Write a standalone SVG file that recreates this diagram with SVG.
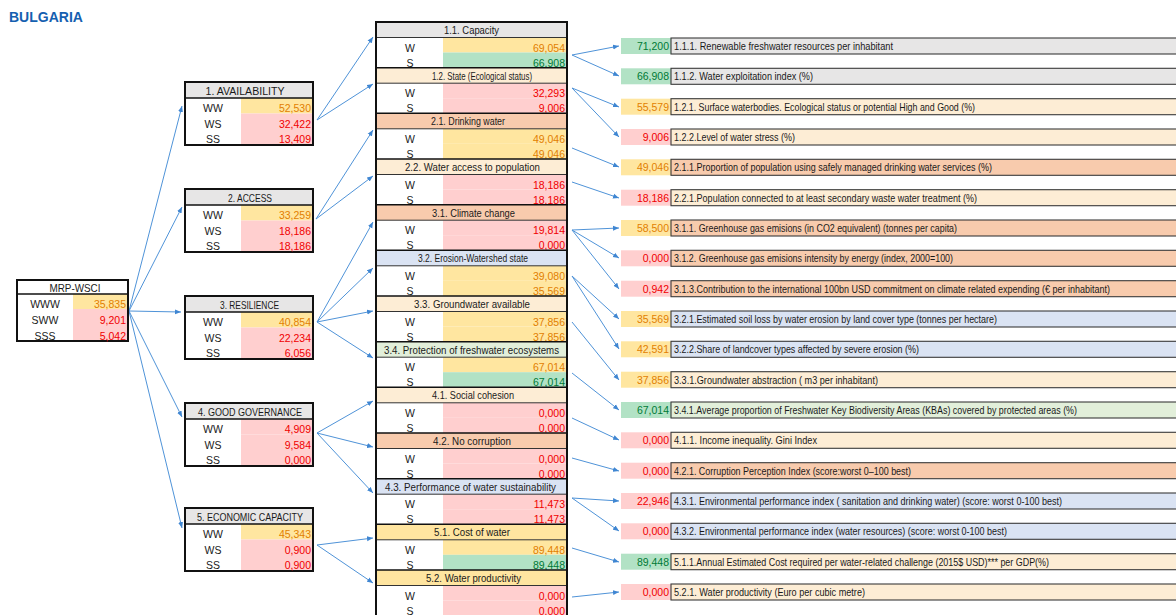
<svg xmlns="http://www.w3.org/2000/svg" width="1176" height="615" viewBox="0 0 1176 615">
<style>
text{font-family:"Liberation Sans",Arial,sans-serif;font-size:10.5px;fill:#1a1a1a}
.title{font-size:14px;font-weight:bold;fill:#1560B0}
.c{text-anchor:middle}
.v{text-anchor:end}
.rl{font-size:10.3px}
.o{fill:#E27F00}.r{fill:#F00000}.g{fill:#007A35}
.yb{fill:#FFE6A0}.pb{fill:#FFCFCF}.gb{fill:#B2E2C5}
.gray{fill:#E7E6E6}.cream{fill:#FDEDD5}.salmon{fill:#F8CBAD}.blue{fill:#DAE3F3}.lgreen{fill:#E2EFDA}.yel{fill:#FFE5A0}
.frame{fill:none;stroke:#111;stroke-width:2}
.sep{stroke:#111;stroke-width:1.5}
.thin{stroke:#333;stroke-width:1}
.lab{stroke:#3a3a3a;stroke-width:1.1}
#connectors line{stroke:#4F93D8;stroke-width:1;marker-end:url(#ah)}
</style>
<defs>
<marker id="ah" markerWidth="6" markerHeight="6" refX="6" refY="3" orient="auto" markerUnits="userSpaceOnUse"><path d="M0,0.5 L6,3 L0,5.5 z" fill="#3F86D2"/></marker>
</defs>
<rect width="1176" height="615" fill="#fff"/>
<text class="title" x="9" y="22">BULGARIA</text>

<g id="connectors">
<line x1="129" y1="311" x2="182" y2="106"/>
<line x1="129" y1="311" x2="182" y2="207"/>
<line x1="129" y1="311" x2="181" y2="312"/>
<line x1="129" y1="311" x2="182" y2="417"/>
<line x1="129" y1="311" x2="182" y2="528"/>
<line x1="317" y1="120" x2="373" y2="37"/>
<line x1="317" y1="120" x2="373" y2="84"/>
<line x1="316" y1="219" x2="373" y2="130"/>
<line x1="316" y1="219" x2="373" y2="176"/>
<line x1="317" y1="322" x2="373" y2="222"/>
<line x1="317" y1="322" x2="373" y2="268"/>
<line x1="317" y1="322" x2="373" y2="311"/>
<line x1="317" y1="322" x2="373" y2="358"/>
<line x1="317" y1="433" x2="373" y2="401"/>
<line x1="317" y1="433" x2="373" y2="447"/>
<line x1="317" y1="433" x2="373" y2="493"/>
<line x1="317" y1="545" x2="373" y2="538"/>
<line x1="317" y1="545" x2="373" y2="583"/>
<line x1="572" y1="55" x2="619" y2="46"/>
<line x1="572" y1="55" x2="619" y2="76"/>
<line x1="572" y1="88" x2="619" y2="107"/>
<line x1="572" y1="88" x2="619" y2="137"/>
<line x1="572" y1="148" x2="619" y2="167"/>
<line x1="572" y1="182" x2="619" y2="198"/>
<line x1="572" y1="230" x2="619" y2="228"/>
<line x1="572" y1="230" x2="619" y2="258"/>
<line x1="572" y1="230" x2="619" y2="289"/>
<line x1="572" y1="276" x2="619" y2="319"/>
<line x1="572" y1="276" x2="619" y2="349"/>
<line x1="572" y1="322" x2="619" y2="380"/>
<line x1="572" y1="373" x2="619" y2="410"/>
<line x1="572" y1="418" x2="619" y2="440"/>
<line x1="572" y1="458" x2="619" y2="471"/>
<line x1="572" y1="498" x2="619" y2="501"/>
<line x1="572" y1="498" x2="619" y2="531"/>
<line x1="572" y1="548" x2="619" y2="562"/>
<line x1="572" y1="597" x2="619" y2="592"/>
</g>

<g id="mrp-wsci">
<rect x="17" y="280" width="111" height="14" fill="#fff"/>
<rect class="yb" x="73" y="294" width="55" height="15"/>
<rect class="pb" x="73" y="309" width="55" height="16"/>
<rect class="pb" x="73" y="325" width="55" height="16"/>
<line class="sep" x1="17" y1="294" x2="128" y2="294"/>
<rect class="frame" x="17" y="280" width="111" height="61"/>
<text class="c" x="75" y="292" textLength="51" lengthAdjust="spacingAndGlyphs">MRP-WSCI</text>
<text class="c" x="45" y="308">WWW</text><text class="v o" x="126" y="308">35,835</text>
<text class="c" x="45" y="323.5">SWW</text><text class="v r" x="126" y="323.5">9,201</text>
<text class="c" x="45" y="339.5">SSS</text><text class="v r" x="126" y="339.5">5,042</text>
</g>

<g id="n1" transform="translate(0,82)">
<rect class="gray" x="185" y="0" width="128" height="16"/>
<rect class="yb" x="241" y="16" width="72" height="15.5"/><rect class="pb" x="241" y="31.5" width="72" height="15.5"/><rect class="pb" x="241" y="47" width="72" height="16"/>
<line class="sep" x1="185" y1="16" x2="313" y2="16"/><rect class="frame" x="185" y="0" width="128" height="63"/>
<text class="c" x="245" y="13" textLength="79" lengthAdjust="spacingAndGlyphs">1. AVAILABILITY</text>
<text class="c" x="213" y="30">WW</text><text class="v o" x="311" y="30">52,530</text>
<text class="c" x="213" y="45.5">WS</text><text class="v r" x="311" y="45.5">32,422</text>
<text class="c" x="213" y="61">SS</text><text class="v r" x="311" y="61">13,409</text>
</g>
<g id="n2" transform="translate(0,189)">
<rect class="gray" x="185" y="0" width="128" height="16"/>
<rect class="yb" x="241" y="16" width="72" height="15.5"/><rect class="pb" x="241" y="31.5" width="72" height="15.5"/><rect class="pb" x="241" y="47" width="72" height="16"/>
<line class="sep" x1="185" y1="16" x2="313" y2="16"/><rect class="frame" x="185" y="0" width="128" height="63"/>
<text class="c" x="250" y="13" textLength="44" lengthAdjust="spacingAndGlyphs">2. ACCESS</text>
<text class="c" x="213" y="30">WW</text><text class="v o" x="311" y="30">33,259</text>
<text class="c" x="213" y="45.5">WS</text><text class="v r" x="311" y="45.5">18,186</text>
<text class="c" x="213" y="61">SS</text><text class="v r" x="311" y="61">18,186</text>
</g>
<g id="n3" transform="translate(0,296)">
<rect class="gray" x="185" y="0" width="128" height="16"/>
<rect class="yb" x="241" y="16" width="72" height="15.5"/><rect class="pb" x="241" y="31.5" width="72" height="15.5"/><rect class="pb" x="241" y="47" width="72" height="16"/>
<line class="sep" x1="185" y1="16" x2="313" y2="16"/><rect class="frame" x="185" y="0" width="128" height="63"/>
<text class="c" x="249.5" y="13" textLength="59" lengthAdjust="spacingAndGlyphs">3. RESILIENCE</text>
<text class="c" x="213" y="30">WW</text><text class="v o" x="311" y="30">40,854</text>
<text class="c" x="213" y="45.5">WS</text><text class="v r" x="311" y="45.5">22,234</text>
<text class="c" x="213" y="61">SS</text><text class="v r" x="311" y="61">6,056</text>
</g>
<g id="n4" transform="translate(0,403)">
<rect class="gray" x="185" y="0" width="128" height="16"/>
<rect class="pb" x="241" y="16" width="72" height="15.5"/><rect class="pb" x="241" y="31.5" width="72" height="15.5"/><rect class="pb" x="241" y="47" width="72" height="16"/>
<line class="sep" x1="185" y1="16" x2="313" y2="16"/><rect class="frame" x="185" y="0" width="128" height="63"/>
<text class="c" x="250" y="13" textLength="104" lengthAdjust="spacingAndGlyphs">4. GOOD GOVERNANCE</text>
<text class="c" x="213" y="30">WW</text><text class="v r" x="311" y="30">4,909</text>
<text class="c" x="213" y="45.5">WS</text><text class="v r" x="311" y="45.5">9,584</text>
<text class="c" x="213" y="61">SS</text><text class="v r" x="311" y="61">0,000</text>
</g>
<g id="n5" transform="translate(0,508)">
<rect class="gray" x="185" y="0" width="128" height="16"/>
<rect class="yb" x="241" y="16" width="72" height="15.5"/><rect class="pb" x="241" y="31.5" width="72" height="15.5"/><rect class="pb" x="241" y="47" width="72" height="16"/>
<line class="sep" x1="185" y1="16" x2="313" y2="16"/><rect class="frame" x="185" y="0" width="128" height="63"/>
<text class="c" x="250" y="13" textLength="106" lengthAdjust="spacingAndGlyphs">5. ECONOMIC CAPACITY</text>
<text class="c" x="213" y="30">WW</text><text class="v o" x="311" y="30">45,343</text>
<text class="c" x="213" y="45.5">WS</text><text class="v r" x="311" y="45.5">0,900</text>
<text class="c" x="213" y="61">SS</text><text class="v r" x="311" y="61">0,900</text>
</g>

<g id="middle">
<g id="n1_1" transform="translate(0,22)">
<rect class="gray" x="376" y="0" width="191" height="15.5"/><rect class="yb" x="443" y="15.5" width="124" height="15"/><rect class="gb" x="443" y="30.5" width="124" height="15.2"/>
<line class="sep" x1="376" y1="0" x2="567" y2="0"/><line class="thin" x1="376" y1="15.5" x2="567" y2="15.5"/>
<text class="c" x="471.5" y="12" textLength="55" lengthAdjust="spacingAndGlyphs">1.1. Capacity</text>
<text class="c" x="410" y="29.5">W</text><text class="v o" x="565" y="29.5">69,054</text>
<text class="c" x="410" y="44.5">S</text><text class="v g" x="565" y="44.5">66,908</text>
</g>
<g id="n1_2" transform="translate(0,67.7)">
<rect class="cream" x="376" y="0" width="191" height="15.5"/><rect class="pb" x="443" y="15.5" width="124" height="15"/><rect class="pb" x="443" y="30.5" width="124" height="15.2"/>
<line class="sep" x1="376" y1="0" x2="567" y2="0"/><line class="thin" x1="376" y1="15.5" x2="567" y2="15.5"/>
<text class="c" x="482" y="12" textLength="100" lengthAdjust="spacingAndGlyphs">1.2. State (Ecological status)</text>
<text class="c" x="410" y="29.5">W</text><text class="v r" x="565" y="29.5">32,293</text>
<text class="c" x="410" y="44.5">S</text><text class="v r" x="565" y="44.5">9,006</text>
</g>
<g id="n2_1" transform="translate(0,113.3)">
<rect class="salmon" x="376" y="0" width="191" height="15.5"/><rect class="yb" x="443" y="15.5" width="124" height="15"/><rect class="yb" x="443" y="30.5" width="124" height="15.2"/>
<line class="sep" x1="376" y1="0" x2="567" y2="0"/><line class="thin" x1="376" y1="15.5" x2="567" y2="15.5"/>
<text class="c" x="468" y="12" textLength="74" lengthAdjust="spacingAndGlyphs">2.1. Drinking water</text>
<text class="c" x="410" y="29.5">W</text><text class="v o" x="565" y="29.5">49,046</text>
<text class="c" x="410" y="44.5">S</text><text class="v o" x="565" y="44.5">49,046</text>
</g>
<g id="n2_2" transform="translate(0,159)">
<rect class="cream" x="376" y="0" width="191" height="15.5"/><rect class="pb" x="443" y="15.5" width="124" height="15"/><rect class="pb" x="443" y="30.5" width="124" height="15.2"/>
<line class="sep" x1="376" y1="0" x2="567" y2="0"/><line class="thin" x1="376" y1="15.5" x2="567" y2="15.5"/>
<text class="c" x="472.5" y="12" textLength="135" lengthAdjust="spacingAndGlyphs">2.2. Water access to population</text>
<text class="c" x="410" y="29.5">W</text><text class="v r" x="565" y="29.5">18,186</text>
<text class="c" x="410" y="44.5">S</text><text class="v r" x="565" y="44.5">18,186</text>
</g>
<g id="n3_1" transform="translate(0,204.7)">
<rect class="salmon" x="376" y="0" width="191" height="15.5"/><rect class="pb" x="443" y="15.5" width="124" height="15"/><rect class="pb" x="443" y="30.5" width="124" height="15.2"/>
<line class="sep" x1="376" y1="0" x2="567" y2="0"/><line class="thin" x1="376" y1="15.5" x2="567" y2="15.5"/>
<text class="c" x="473.5" y="12" textLength="83" lengthAdjust="spacingAndGlyphs">3.1. Climate change</text>
<text class="c" x="410" y="29.5">W</text><text class="v r" x="565" y="29.5">19,814</text>
<text class="c" x="410" y="44.5">S</text><text class="v r" x="565" y="44.5">0,000</text>
</g>
<g id="n3_2" transform="translate(0,250.3)">
<rect class="blue" x="376" y="0" width="191" height="15.5"/><rect class="yb" x="443" y="15.5" width="124" height="15"/><rect class="yb" x="443" y="30.5" width="124" height="15.2"/>
<line class="sep" x1="376" y1="0" x2="567" y2="0"/><line class="thin" x1="376" y1="15.5" x2="567" y2="15.5"/>
<text class="c" x="473" y="12" textLength="110" lengthAdjust="spacingAndGlyphs">3.2. Erosion-Watershed state</text>
<text class="c" x="410" y="29.5">W</text><text class="v o" x="565" y="29.5">39,080</text>
<text class="c" x="410" y="44.5">S</text><text class="v o" x="565" y="44.5">35,569</text>
</g>
<g id="n3_3" transform="translate(0,296)">
<rect class="cream" x="376" y="0" width="191" height="15.5"/><rect class="yb" x="443" y="15.5" width="124" height="15"/><rect class="yb" x="443" y="30.5" width="124" height="15.2"/>
<line class="sep" x1="376" y1="0" x2="567" y2="0"/><line class="thin" x1="376" y1="15.5" x2="567" y2="15.5"/>
<text class="c" x="472" y="12" textLength="116" lengthAdjust="spacingAndGlyphs">3.3. Groundwater available</text>
<text class="c" x="410" y="29.5">W</text><text class="v o" x="565" y="29.5">37,856</text>
<text class="c" x="410" y="44.5">S</text><text class="v o" x="565" y="44.5">37,856</text>
</g>
<g id="n3_4" transform="translate(0,341.7)">
<rect class="lgreen" x="376" y="0" width="191" height="15.5"/><rect class="yb" x="443" y="15.5" width="124" height="15"/><rect class="gb" x="443" y="30.5" width="124" height="15.2"/>
<line class="sep" x1="376" y1="0" x2="567" y2="0"/><line class="thin" x1="376" y1="15.5" x2="567" y2="15.5"/>
<text class="c" x="471.5" y="12" textLength="175" lengthAdjust="spacingAndGlyphs">3.4. Protection of freshwater ecosystems</text>
<text class="c" x="410" y="29.5">W</text><text class="v o" x="565" y="29.5">67,014</text>
<text class="c" x="410" y="44.5">S</text><text class="v g" x="565" y="44.5">67,014</text>
</g>
<g id="n4_1" transform="translate(0,387.3)">
<rect class="cream" x="376" y="0" width="191" height="15.5"/><rect class="pb" x="443" y="15.5" width="124" height="15"/><rect class="pb" x="443" y="30.5" width="124" height="15.2"/>
<line class="sep" x1="376" y1="0" x2="567" y2="0"/><line class="thin" x1="376" y1="15.5" x2="567" y2="15.5"/>
<text class="c" x="473" y="12" textLength="82" lengthAdjust="spacingAndGlyphs">4.1. Social cohesion</text>
<text class="c" x="410" y="29.5">W</text><text class="v r" x="565" y="29.5">0,000</text>
<text class="c" x="410" y="44.5">S</text><text class="v r" x="565" y="44.5">0,000</text>
</g>
<g id="n4_2" transform="translate(0,433)">
<rect class="salmon" x="376" y="0" width="191" height="15.5"/><rect class="pb" x="443" y="15.5" width="124" height="15"/><rect class="pb" x="443" y="30.5" width="124" height="15.2"/>
<line class="sep" x1="376" y1="0" x2="567" y2="0"/><line class="thin" x1="376" y1="15.5" x2="567" y2="15.5"/>
<text class="c" x="472" y="12" textLength="78" lengthAdjust="spacingAndGlyphs">4.2. No corruption</text>
<text class="c" x="410" y="29.5">W</text><text class="v r" x="565" y="29.5">0,000</text>
<text class="c" x="410" y="44.5">S</text><text class="v r" x="565" y="44.5">0,000</text>
</g>
<g id="n4_3" transform="translate(0,478.7)">
<rect class="blue" x="376" y="0" width="191" height="15.5"/><rect class="pb" x="443" y="15.5" width="124" height="15"/><rect class="pb" x="443" y="30.5" width="124" height="15.2"/>
<line class="sep" x1="376" y1="0" x2="567" y2="0"/><line class="thin" x1="376" y1="15.5" x2="567" y2="15.5"/>
<text class="c" x="470.5" y="12" textLength="171" lengthAdjust="spacingAndGlyphs">4.3. Performance of water sustainability</text>
<text class="c" x="410" y="29.5">W</text><text class="v r" x="565" y="29.5">11,473</text>
<text class="c" x="410" y="44.5">S</text><text class="v r" x="565" y="44.5">11,473</text>
</g>
<g id="n5_1" transform="translate(0,524.3)">
<rect class="yel" x="376" y="0" width="191" height="15.5"/><rect class="yb" x="443" y="15.5" width="124" height="15"/><rect class="gb" x="443" y="30.5" width="124" height="15.2"/>
<line class="sep" x1="376" y1="0" x2="567" y2="0"/><line class="thin" x1="376" y1="15.5" x2="567" y2="15.5"/>
<text class="c" x="472" y="12" textLength="76" lengthAdjust="spacingAndGlyphs">5.1. Cost of water</text>
<text class="c" x="410" y="29.5">W</text><text class="v o" x="565" y="29.5">89,448</text>
<text class="c" x="410" y="44.5">S</text><text class="v g" x="565" y="44.5">89,448</text>
</g>
<g id="n5_2" transform="translate(0,570)">
<rect class="yel" x="376" y="0" width="191" height="15.5"/><rect class="pb" x="443" y="15.5" width="124" height="15"/><rect class="pb" x="443" y="30.5" width="124" height="15.2"/>
<line class="sep" x1="376" y1="0" x2="567" y2="0"/><line class="thin" x1="376" y1="15.5" x2="567" y2="15.5"/>
<text class="c" x="473.5" y="12" textLength="95" lengthAdjust="spacingAndGlyphs">5.2. Water productivity</text>
<text class="c" x="410" y="29.5">W</text><text class="v r" x="565" y="29.5">0,000</text>
<text class="c" x="410" y="44.5">S</text><text class="v r" x="565" y="44.5">0,000</text>
</g>
<rect class="frame" x="376" y="22" width="191" height="594"/>
</g>

<g id="indicators">
<g id="i1_1_1" transform="translate(0,46)"><rect class="gb" x="621" y="-8" width="50" height="16"/><rect class="gray lab" x="671" y="-8" width="510" height="16"/><text class="v g" x="669" y="4">71,200</text><text class="rl" x="674" y="4" textLength="219" lengthAdjust="spacingAndGlyphs">1.1.1.  Renewable freshwater resources per  inhabitant</text></g>
<g id="i1_1_2" transform="translate(0,76.3)"><rect class="gb" x="621" y="-8" width="50" height="16"/><rect class="gray lab" x="671" y="-8" width="510" height="16"/><text class="v g" x="669" y="4">66,908</text><text class="rl" x="674" y="4" textLength="139" lengthAdjust="spacingAndGlyphs">1.1.2. Water exploitation index (%)</text></g>
<g id="i1_2_1" transform="translate(0,106.7)"><rect class="yb" x="621" y="-8" width="50" height="16"/><rect class="cream lab" x="671" y="-8" width="510" height="16"/><text class="v o" x="669" y="4">55,579</text><text class="rl" x="674" y="4" textLength="301" lengthAdjust="spacingAndGlyphs">1.2.1. Surface waterbodies.  Ecological status or potential High and Good (%)</text></g>
<g id="i1_2_2" transform="translate(0,137)"><rect class="pb" x="621" y="-8" width="50" height="16"/><rect class="cream lab" x="671" y="-8" width="510" height="16"/><text class="v r" x="669" y="4">9,006</text><text class="rl" x="674" y="4" textLength="121" lengthAdjust="spacingAndGlyphs">1.2.2.Level of water stress (%)</text></g>
<g id="i2_1_1" transform="translate(0,167.3)"><rect class="yb" x="621" y="-8" width="50" height="16"/><rect class="salmon lab" x="671" y="-8" width="510" height="16"/><text class="v o" x="669" y="4">49,046</text><text class="rl" x="674" y="4" textLength="318" lengthAdjust="spacingAndGlyphs">2.1.1.Proportion of population using safely managed drinking water services (%)</text></g>
<g id="i2_2_1" transform="translate(0,197.7)"><rect class="pb" x="621" y="-8" width="50" height="16"/><rect class="cream lab" x="671" y="-8" width="510" height="16"/><text class="v r" x="669" y="4">18,186</text><text class="rl" x="674" y="4" textLength="303" lengthAdjust="spacingAndGlyphs">2.2.1.Population connected to at least secondary waste water treatment (%)</text></g>
<g id="i3_1_1" transform="translate(0,228)"><rect class="yb" x="621" y="-8" width="50" height="16"/><rect class="salmon lab" x="671" y="-8" width="510" height="16"/><text class="v o" x="669" y="4">58,500</text><text class="rl" x="674" y="4" textLength="283" lengthAdjust="spacingAndGlyphs">3.1.1. Greenhouse gas emisions (in CO2 equivalent) (tonnes per capita)</text></g>
<g id="i3_1_2" transform="translate(0,258.3)"><rect class="pb" x="621" y="-8" width="50" height="16"/><rect class="salmon lab" x="671" y="-8" width="510" height="16"/><text class="v r" x="669" y="4">0,000</text><text class="rl" x="674" y="4" textLength="279" lengthAdjust="spacingAndGlyphs">3.1.2. Greenhouse gas emisions intensity by energy (index, 2000=100)</text></g>
<g id="i3_1_3" transform="translate(0,288.7)"><rect class="pb" x="621" y="-8" width="50" height="16"/><rect class="salmon lab" x="671" y="-8" width="510" height="16"/><text class="v r" x="669" y="4">0,942</text><text class="rl" x="674" y="4" textLength="436" lengthAdjust="spacingAndGlyphs">3.1.3.Contribution to the international 100bn USD commitment on climate related expending (€ per inhabitant)</text></g>
<g id="i3_2_1" transform="translate(0,319)"><rect class="yb" x="621" y="-8" width="50" height="16"/><rect class="blue lab" x="671" y="-8" width="510" height="16"/><text class="v o" x="669" y="4">35,569</text><text class="rl" x="674" y="4" textLength="323" lengthAdjust="spacingAndGlyphs">3.2.1.Estimated soil loss by water erosion by land cover type (tonnes per hectare)</text></g>
<g id="i3_2_2" transform="translate(0,349.3)"><rect class="yb" x="621" y="-8" width="50" height="16"/><rect class="blue lab" x="671" y="-8" width="510" height="16"/><text class="v o" x="669" y="4">42,591</text><text class="rl" x="674" y="4" textLength="245" lengthAdjust="spacingAndGlyphs">3.2.2.Share of landcover types affected by severe erosion (%)</text></g>
<g id="i3_3_1" transform="translate(0,379.7)"><rect class="yb" x="621" y="-8" width="50" height="16"/><rect class="cream lab" x="671" y="-8" width="510" height="16"/><text class="v o" x="669" y="4">37,856</text><text class="rl" x="674" y="4" textLength="204" lengthAdjust="spacingAndGlyphs">3.3.1.Groundwater abstraction ( m3 per inhabitant)</text></g>
<g id="i3_4_1" transform="translate(0,410)"><rect class="gb" x="621" y="-8" width="50" height="16"/><rect class="lgreen lab" x="671" y="-8" width="510" height="16"/><text class="v g" x="669" y="4">67,014</text><text class="rl" x="674" y="4" textLength="403" lengthAdjust="spacingAndGlyphs">3.4.1.Average proportion of Freshwater Key Biodiversity Areas (KBAs) covered by protected areas (%)</text></g>
<g id="i4_1_1" transform="translate(0,440.3)"><rect class="pb" x="621" y="-8" width="50" height="16"/><rect class="cream lab" x="671" y="-8" width="510" height="16"/><text class="v r" x="669" y="4">0,000</text><text class="rl" x="674" y="4" textLength="143" lengthAdjust="spacingAndGlyphs">4.1.1. Income inequality. Gini Index</text></g>
<g id="i4_2_1" transform="translate(0,470.7)"><rect class="pb" x="621" y="-8" width="50" height="16"/><rect class="salmon lab" x="671" y="-8" width="510" height="16"/><text class="v r" x="669" y="4">0,000</text><text class="rl" x="674" y="4" textLength="237" lengthAdjust="spacingAndGlyphs">4.2.1. Corruption Perception Index (score:worst 0–100 best)</text></g>
<g id="i4_3_1" transform="translate(0,501)"><rect class="pb" x="621" y="-8" width="50" height="16"/><rect class="blue lab" x="671" y="-8" width="510" height="16"/><text class="v r" x="669" y="4">22,946</text><text class="rl" x="674" y="4" textLength="388" lengthAdjust="spacingAndGlyphs">4.3.1. Environmental performance index ( sanitation and drinking water) (score: worst 0-100 best)</text></g>
<g id="i4_3_2" transform="translate(0,531.3)"><rect class="pb" x="621" y="-8" width="50" height="16"/><rect class="blue lab" x="671" y="-8" width="510" height="16"/><text class="v r" x="669" y="4">0,000</text><text class="rl" x="674" y="4" textLength="333" lengthAdjust="spacingAndGlyphs">4.3.2. Environmental performance index (water resources) (score: worst 0-100 best)</text></g>
<g id="i5_1_1" transform="translate(0,561.7)"><rect class="gb" x="621" y="-8" width="50" height="16"/><rect class="cream lab" x="671" y="-8" width="510" height="16"/><text class="v g" x="669" y="4">89,448</text><text class="rl" x="674" y="4" textLength="375" lengthAdjust="spacingAndGlyphs">5.1.1.Annual Estimated Cost required per water-related challenge (2015$ USD)*** per GDP(%)</text></g>
<g id="i5_2_1" transform="translate(0,592)"><rect class="pb" x="621" y="-8" width="50" height="16"/><rect class="cream lab" x="671" y="-8" width="510" height="16"/><text class="v r" x="669" y="4">0,000</text><text class="rl" x="674" y="4" textLength="191" lengthAdjust="spacingAndGlyphs">5.2.1. Water productivity (Euro per cubic metre)</text></g>
</g>
</svg>
